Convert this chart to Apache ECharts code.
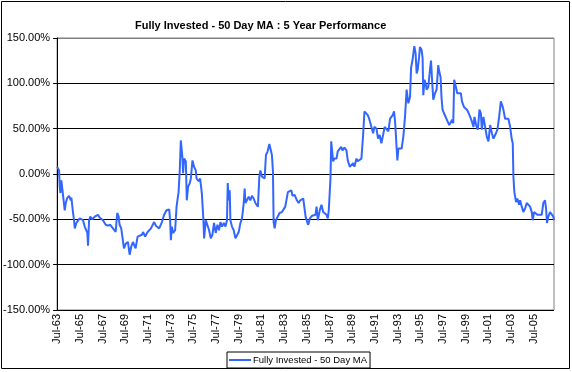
<!DOCTYPE html>
<html>
<head>
<meta charset="utf-8">
<script src="https://cdn.jsdelivr.net/npm/echarts@6/dist/echarts.min.js"></script>
<style>
html,body{margin:0;padding:0;background:#fff;}
#c{width:572px;height:372px;}
</style>
</head>
<body>
<div id="c"></div>
<script>
// months elapsed since Jul-1963
var monthsSinceJul63 = [0,2.1,2.8,3.5,4.5,6.3,8.1,9.2,10.5,12.7,14.5,15.1,16.1,16.9,17.9,18.7,20.4,23.9,27.4,29.2,30.9,32.0,32.7,33.8,35.1,37.2,39.8,43.2,45.0,48.5,51.4,53.8,56.2,59.1,61.9,63.6,65.1,66.1,67.8,69.6,70.7,72.5,74.9,76.7,78.4,80.2,83.0,85.1,86.8,89.7,91.0,93.1,95.7,99.2,102.6,104.4,107.9,110.8,113.2,115.7,118.5,119.5,120.3,121.3,122.7,124.8,126.3,128.4,129.7,130.8,131.9,132.6,133.2,134.3,136.1,137.1,138.5,140.3,141.4,143.1,144.8,146.6,147.4,149.5,151.2,153.0,154.7,155.4,157.2,159.0,160.7,162.4,164.2,165.9,167.7,169.5,171.2,172.7,174.4,176.2,178.0,179.6,180.4,181.4,182.5,183.2,184.9,186.7,188.5,190.2,192.0,193.8,195.5,197.3,198.3,199.1,200.7,202.5,204.3,206.0,207.8,209.6,212.3,213.8,214.9,216.6,218.4,219.4,220.8,222.6,224.4,226.1,227.1,228.2,228.9,230.0,231.3,233.4,235.2,237.7,239.5,241.2,242.9,244.0,245.5,247.6,248.9,251.1,253.5,255.3,257.1,260.2,261.6,262.7,264.4,265.5,267.2,269.7,273.2,274.3,275.6,277.7,279.5,281.3,283.0,284.8,286.2,287.2,288.3,289.0,289.8,290.8,291.8,293.2,295.4,296.7,298.8,300.3,301.7,303.8,305.9,307.3,309.4,310.9,313.0,314.3,316.5,317.8,319.9,321.7,323.5,324.9,326.7,328.4,329.9,332.0,334.1,335.4,337.6,339.3,341.0,342.8,344.6,346.3,348.4,350.2,352.0,354.8,356.2,357.3,359.0,359.7,360.8,362.6,364.2,366.0,367.8,369.5,371.3,373.1,374.2,375.8,377.6,379.0,380.1,381.2,382.6,383.6,385.3,386.4,387.1,388.5,390.0,390.6,392.4,394.2,395.3,396.6,397.7,399.5,401.2,402.9,404.0,405.4,406.4,407.5,409.0,411.1,412.8,414.6,416.0,417.7,418.8,419.8,421.6,423.0,425.1,426.9,428.0,430.1,432.2,433.9,436.7,438.5,440.2,441.2,443.0,444.8,446.5,448.0,449.0,450.7,452.5,454.3,456.0,457.8,459.6,461.3,463.1,465.5,467.3,469.1,470.5,471.8,473.6,475.4,477.1,478.9,480.7,481.7,482.4,483.4,485.2,486.6,488.4,489.5,491.2,492.9,494.7,496.5,498.2,500.0,501.8,502.8,504.2,506.0,507.7,509.8,512.3,514.0,515.8,516.9,517.9,519.3,521.1,522.9,524.6,525.3];
// 5-year performance, percent
var performancePct = [8,4,-14,-21,-7,-8,-40,-32,-27,-24,-29,-26,-28,-43,-51,-60,-54,-49,-51,-58,-56,-65,-79,-51,-47,-50,-47,-45,-48,-51,-56,-57,-56,-60,-64,-43,-47,-56,-60,-58,-82,-77,-75,-89,-80,-75,-82,-69,-71,-67,-64,-69,-64,-60,-53,-57,-60,-53,-45,-40,-39,-51,-73,-58,-65,-62,-36,-20,4,37,36,17,1,17,14,-29,-14,-10,-5,15,8,4,-5,-8,-5,-21,-51,-71,-51,-49,-62,-71,-67,-54,-65,-56,-62,-53,-58,-54,-58,-51,-10,-29,-18,-51,-58,-62,-71,-69,-64,-54,-49,-32,-16,-32,-29,-25,-29,-24,-27,-32,-36,-3,4,-3,-1,-5,21,25,33,33,21,3,-53,-60,-51,-49,-43,-42,-43,-36,-34,-20,-21,-18,-24,-23,-29,-32,-29,-27,-27,-47,-53,-56,-49,-46,-45,-36,-51,-40,-34,-42,-40,-45,-49,-40,-38,-5,36,36,14,17,17,25,26,30,26,29,26,15,8,6,12,8,17,14,15,17,43,69,67,65,61,63,45,52,50,39,43,34,43,52,50,47,61,65,69,58,56,15,28,30,28,41,63,93,78,85,117,126,141,133,111,115,128,140,137,128,87,104,98,93,96,115,125,100,82,89,93,120,113,107,84,71,67,65,58,54,52,60,56,104,96,89,91,89,80,74,72,70,63,58,52,63,54,49,71,67,49,63,52,41,36,54,45,39,43,49,63,80,76,71,61,63,61,52,38,34,-3,-20,-31,-27,-34,-29,-36,-42,-38,-32,-31,-36,-42,-51,-42,-40,-45,-47,-45,-32,-29,-38,-54,-47,-42,-44,-47,-51];
var seriesName = 'Fully Invested - 50 Day MA';
var chartTitle = 'Fully Invested - 50 Day MA : 5 Year Performance';

var points = monthsSinceJul63.map(function(m,i){return [m, performancePct[i]];});
var font = 'Arial, "Liberation Sans", sans-serif';
var chart = echarts.init(document.getElementById('c'), null, {renderer:'canvas'});
chart.setOption({
  backgroundColor:'#fff',
  animation:false,
  title:{text:chartTitle,left:130,top:15,textStyle:{fontFamily:font,fontSize:11,fontWeight:'bold',color:'#000'}},
  grid:{left:55,right:18,top:38,bottom:62,show:true,borderColor:'#808080',borderWidth:1,backgroundColor:'#fff'},
  legend:{data:[{name:seriesName,icon:'rect'}],left:227,top:352,padding:[3,3,3,2],itemWidth:22,itemHeight:2,itemGap:4,
    borderColor:'#000',borderWidth:1,textStyle:{fontFamily:font,fontSize:9.5,color:'#000',padding:[0,0,0,-3]}},
  xAxis:{type:'value',min:0,max:525.3,interval:24,
    axisLine:{lineStyle:{color:'#000',width:1}},axisTick:{show:false},splitLine:{show:false},
    axisLabel:{rotate:90,margin:4,fontFamily:font,fontSize:11,color:'#000',showMaxLabel:false,
      formatter:function(v){var y=(63+Math.floor((v+6)/12))%100;return 'Jul-'+(y<10?'0'+y:y);}}},
  yAxis:{type:'value',min:-150,max:150,interval:50,
    axisLine:{show:true,lineStyle:{color:'#000',width:1}},
    axisTick:{show:true,length:4,lineStyle:{color:'#000'}},
    splitLine:{show:true,lineStyle:{color:['#000','#000','#000','#000','#000','#000','#808080'],width:1}},
    axisLabel:{margin:7,fontFamily:font,fontSize:11,color:'#000',formatter:function(v){return v.toFixed(2)+'%';}}},
  series:[{name:seriesName,type:'line',data:points,symbol:'none',showSymbol:false,
    lineStyle:{color:'#3366FF',width:2},itemStyle:{color:'#3366FF'}}],
  graphic:[{type:'rect',shape:{x:1.5,y:1.5,width:568,height:367},style:{fill:null,stroke:'#000',lineWidth:1},silent:true}]
});
</script>
</body>
</html>
